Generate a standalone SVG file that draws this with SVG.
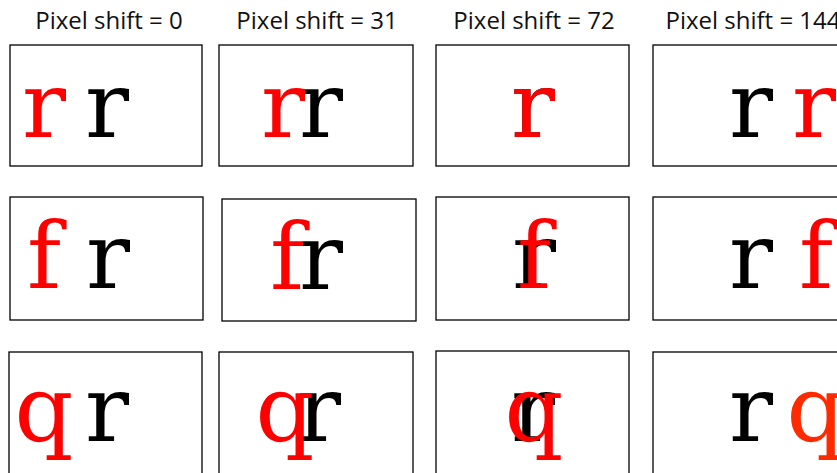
<svg xmlns="http://www.w3.org/2000/svg" width="837" height="473" viewBox="0 0 837 473">
<style>
.title{font-family:"Open Sans",Roboto,sans-serif;font-size:24px;fill:#111;text-anchor:middle}
.box{fill:#fff;stroke:#000;stroke-width:1.3}
.g{font-family:"DejaVu Serif","Liberation Serif",serif;font-size:92px;text-anchor:middle}
.k{fill:#000}
.r{fill:#ff0000}
.o{fill:#ff2a00}
</style>
<rect width="837" height="473" fill="#fff"/>
<g id="titles">
<text class="title" x="109" y="29">Pixel shift = 0</text>
<text class="title" x="317" y="29">Pixel shift = 31</text>
<text class="title" x="534" y="29">Pixel shift = 72</text>
<text class="title" x="753" y="29">Pixel shift = 144</text>
</g>
<g id="row1">
<g id="p11"><rect class="box" x="10" y="45" width="192" height="121"/><text class="g r" x="44" y="137">r</text><text class="g k" x="107" y="137">r</text></g>
<g id="p12"><rect class="box" x="219" y="45" width="194" height="121"/><text class="g k" x="321" y="137">r</text><text class="g r" x="283" y="137">r</text></g>
<g id="p13"><rect class="box" x="436" y="45" width="193" height="121"/><text class="g k" x="533" y="137">r</text><text class="g r" x="533" y="137">r</text></g>
<g id="p14"><rect class="box" x="653" y="45" width="194" height="121"/><text class="g k" x="751" y="137">r</text><text class="g r" x="814" y="137">r</text></g>
</g>
<g id="row2">
<g id="p21"><rect class="box" x="10" y="197" width="193" height="123"/><text class="g r" x="44" y="288">f</text><text class="g k" x="108" y="288">r</text></g>
<g id="p22"><rect class="box" x="222" y="199" width="194" height="122"/><text class="g k" x="321" y="289">r</text><text class="g r" x="287" y="289">f</text></g>
<g id="p23"><rect class="box" x="436" y="197" width="193" height="123"/><text class="g k" x="534" y="288">r</text><text class="g r" x="534" y="288">f</text></g>
<g id="p24"><rect class="box" x="653" y="197" width="194" height="123"/><text class="g k" x="751" y="288">r</text><text class="g r" x="816" y="288">f</text></g>
</g>
<g id="row3">
<g id="p31"><rect class="box" x="9" y="352" width="193" height="140"/><text class="g r" x="44" y="441">q</text><text class="g k" x="107" y="441">r</text></g>
<g id="p32"><rect class="box" x="219" y="352" width="194" height="140"/><text class="g k" x="319" y="441">r</text><text class="g r" x="285" y="441">q</text></g>
<g id="p33"><rect class="box" x="436" y="351" width="193" height="140"/><text class="g k" x="533" y="441">r</text><text class="g r" x="534" y="441">q</text></g>
<g id="p34"><rect class="box" x="653" y="352" width="194" height="140"/><text class="g k" x="751" y="441">r</text><text class="g o" x="816" y="441">q</text></g>
</g>
</svg>
